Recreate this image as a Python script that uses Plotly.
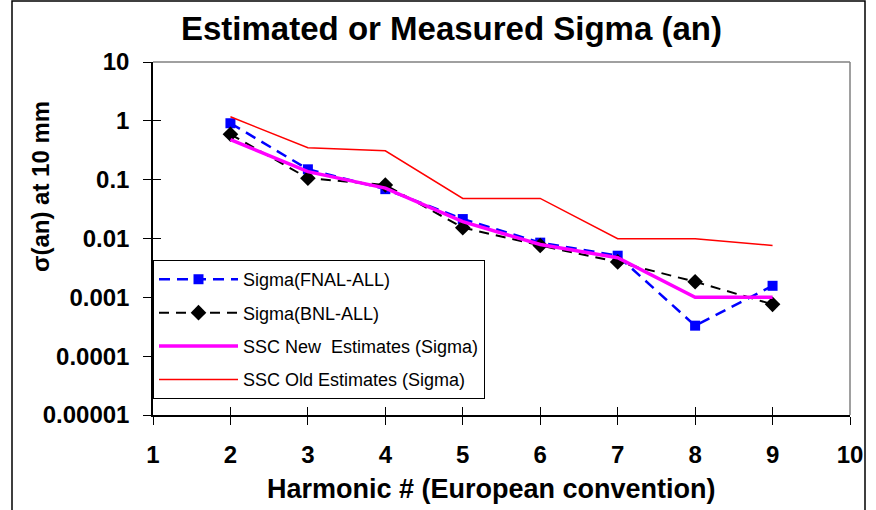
import plotly.graph_objects as go

harmonics = [2, 3, 4, 5, 6, 7, 8, 9]
fnal_all = [0.91, 0.15, 0.069, 0.0214, 0.0085, 0.0051, 0.00033, 0.00157]
bnl_all = [0.59, 0.106, 0.081, 0.0153, 0.0076, 0.0040, 0.00184, 0.00076]
ssc_new = [0.48, 0.137, 0.072, 0.0193, 0.0079, 0.0047, 0.001, 0.001]
ssc_old = [1.17, 0.35, 0.31, 0.048, 0.048, 0.0099, 0.0099, 0.0076]

x_ticks = [1, 2, 3, 4, 5, 6, 7, 8, 9, 10]
y_ticks = [10, 1, 0.1, 0.01, 0.001, 0.0001, 0.00001]
y_tick_labels = ["10", "1", "0.1", "0.01", "0.001", "0.0001", "0.00001"]

FONT = "Liberation Sans, Arial, sans-serif"

fig = go.Figure()
fig.add_trace(go.Scatter(
    x=harmonics, y=fnal_all, name="Sigma(FNAL-ALL)", mode="lines+markers",
    line=dict(color="#0000FF", width=2.5, dash="11px,7px"),
    marker=dict(symbol="square", size=10, color="#0000FF"), legendgroup="a"))
fig.add_trace(go.Scatter(
    x=harmonics, y=bnl_all, name="Sigma(BNL-ALL)", mode="lines+markers",
    line=dict(color="#000000", width=2, dash="10px,7px"),
    marker=dict(symbol="diamond", size=12, color="#000000"), legendgroup="b"))
fig.add_trace(go.Scatter(
    x=harmonics, y=ssc_new, name="SSC New\u00a0 Estimates (Sigma)", mode="lines",
    line=dict(color="#FF00FF", width=3.5), legendgroup="c"))
fig.add_trace(go.Scatter(
    x=harmonics, y=ssc_old, name="SSC Old Estimates (Sigma)", mode="lines",
    line=dict(color="#FF0000", width=1.5), legendgroup="d"))

axis_common = dict(showgrid=False, zeroline=False, automargin=False)
fig.update_layout(
    width=876, height=510,
    margin=dict(l=153, r=26, t=62, b=95, autoexpand=False),
    paper_bgcolor="white", plot_bgcolor="white",
    font=dict(family=FONT, color="black"),
    showlegend=True,
    xaxis=dict(range=[1, 10], tickvals=x_ticks, ticks="outside", ticklen=8,
               tickwidth=1.2, tickcolor="black", showline=True, linecolor="black",
               linewidth=1.5, ticklabelstandoff=9,
               tickfont=dict(size=24, weight="bold", family=FONT), **axis_common),
    yaxis=dict(type="log", range=[-5, 1], tickvals=y_ticks, ticktext=y_tick_labels,
               ticks="outside", ticklen=8, tickwidth=1.2, tickcolor="black",
               showline=True, linecolor="black", linewidth=1.5, ticklabelstandoff=9,
               tickfont=dict(size=24, weight="bold", family=FONT), **axis_common),
    xaxis2=dict(range=[1, 10], overlaying="x", matches="x", tickvals=x_ticks,
                ticks="inside", ticklen=8, tickwidth=1.2, tickcolor="black",
                showticklabels=False, showline=False, **axis_common),
    yaxis2=dict(type="log", range=[-5, 1], overlaying="y", matches="y", tickvals=y_ticks,
                ticks="inside", ticklen=8, tickwidth=1.2, tickcolor="black",
                showticklabels=False, showline=False, **axis_common),
    legend=dict(x=0.0, y=0.439, xanchor="left", yanchor="top",
                bgcolor="white", bordercolor="black", borderwidth=1,
                font=dict(size=18, family=FONT), itemwidth=79,
                tracegroupgap=7, traceorder="grouped"),
)

# invisible trace to attach overlay axes
fig.add_trace(go.Scatter(x=[1], y=[1], xaxis="x2", yaxis="y2", mode="markers",
                         marker=dict(opacity=0), showlegend=False, hoverinfo="skip"))

# plot-area gray top & right border
fig.add_shape(type="line", xref="paper", yref="paper", x0=0, x1=1, y0=1, y1=1,
              line=dict(color="#808080", width=1.5))
fig.add_shape(type="line", xref="paper", yref="paper", x0=1, x1=1, y0=0, y1=1,
              line=dict(color="#808080", width=1.5))
# outer chart frame
fig.add_shape(type="rect", xref="paper", yref="paper",
              x0=(12 - 153) / 697, x1=(865 - 153) / 697,
              y0=(415 - 520) / 353, y1=(415 - 1) / 353,
              line=dict(color="black", width=1.5), layer="below")

fig.add_annotation(text="Estimated or Measured Sigma (an)", xref="paper", yref="paper",
                   x=(451 - 153) / 697, y=(415 - 28) / 353, showarrow=False,
                   font=dict(size=33, weight="bold", family=FONT),
                   xanchor="center", yanchor="middle")
fig.add_annotation(text="Harmonic # (European convention)", xref="paper", yref="paper",
                   x=(491 - 153) / 697, y=(415 - 489) / 353, showarrow=False,
                   font=dict(size=27, weight="bold", family=FONT),
                   xanchor="center", yanchor="middle")
fig.add_annotation(text="σ(an) at 10 mm", xref="paper", yref="paper",
                   x=(40 - 153) / 697, y=(415 - 187) / 353, showarrow=False,
                   textangle=-90,
                   font=dict(size=24, weight="bold", family=FONT),
                   xanchor="center", yanchor="middle")

fig.write_html("out.html", config={"displayModeBar": False},
               post_script="document.body.style.margin='0';")
